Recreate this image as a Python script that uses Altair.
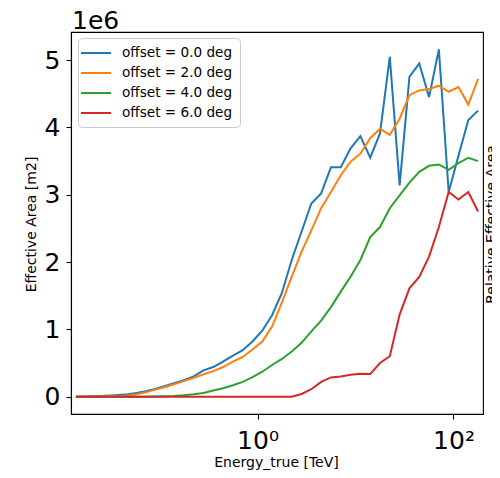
import altair as alt
import pandas as pd

# Energy (TeV): geometric centres of 42 log bins from 0.0125 to 200 TeV
energy_tev = [0.01403, 0.01766, 0.02224, 0.02801, 0.03527, 0.04442, 0.05594, 0.07044,
              0.08870, 0.1117, 0.1407, 0.1771, 0.2231, 0.2809, 0.3537, 0.4454,
              0.5609, 0.7064, 0.8886, 1.119, 1.409, 1.774, 2.234, 2.814,
              3.543, 4.462, 5.619, 7.075, 8.910, 11.22, 14.13, 17.78,
              22.39, 28.20, 35.51, 44.72, 56.31, 70.91, 89.30, 112.4,
              141.6, 178.3]

# Effective area in units of 1e6 m2
aeff_off0 = [0.0, 0.003, 0.006, 0.012, 0.02, 0.03, 0.05, 0.075,
             0.11, 0.155, 0.20, 0.245, 0.30, 0.39, 0.44, 0.52,
             0.61, 0.69, 0.82, 0.98, 1.21, 1.54, 2.03, 2.45,
             2.87, 3.02, 3.41, 3.41, 3.69, 3.87, 3.55, 3.91,
             5.05, 3.14, 4.75, 4.95, 4.45, 5.16, 3.04, 3.58,
             4.11, 4.25]
aeff_off2 = [0.0, 0.0, 0.002, 0.005, 0.01, 0.015, 0.03, 0.06,
             0.10, 0.14, 0.185, 0.23, 0.28, 0.33, 0.38, 0.44,
             0.52, 0.59, 0.70, 0.82, 1.04, 1.40, 1.78, 2.15,
             2.47, 2.80, 3.04, 3.29, 3.49, 3.61, 3.84, 3.98,
             3.89, 4.13, 4.48, 4.55, 4.57, 4.62, 4.53, 4.60,
             4.34, 4.72]
aeff_off4 = [0.0, 0.0, 0.0, 0.0, 0.0, 0.0, 0.0, 0.0,
             0.002, 0.005, 0.01, 0.02, 0.035, 0.055, 0.09, 0.125,
             0.17, 0.22, 0.29, 0.37, 0.47, 0.56, 0.67, 0.80,
             0.97, 1.13, 1.33, 1.56, 1.78, 2.03, 2.37, 2.52,
             2.80, 2.99, 3.18, 3.34, 3.43, 3.45, 3.37, 3.47,
             3.55, 3.50]
aeff_off6 = [0.0, 0.0, 0.0, 0.0, 0.0, 0.0, 0.0, 0.0,
             0.0, 0.0, 0.0, 0.0, 0.0, 0.0, 0.0, 0.0,
             0.0, 0.0, 0.0, 0.0, 0.0, 0.0, 0.0, 0.04,
             0.11, 0.22, 0.285, 0.30, 0.325, 0.34, 0.335, 0.50,
             0.60, 1.22, 1.61, 1.78, 2.08, 2.52, 3.04, 2.93,
             3.04, 2.75]

series_labels = ["offset = 0.0 deg", "offset = 2.0 deg", "offset = 4.0 deg", "offset = 6.0 deg"]
series_colors = ["#1f77b4", "#ff7f0e", "#2ca02c", "#d62728"]
series_values = [aeff_off0, aeff_off2, aeff_off4, aeff_off6]

offset_text = ["1e6"]

rows = []
for label, vals in zip(series_labels, series_values):
    for e, v in zip(energy_tev, vals):
        rows.append({"energy": e, "aeff": v, "offset": label})
df = pd.DataFrame(rows)

FONT = "DejaVu Sans"


def x_enc():
    return alt.X(
        "energy:Q",
        scale=alt.Scale(type="log", domain=[0.0125, 200], nice=False),
        axis=alt.Axis(
            values=[1, 100],
            labelExpr="datum.value == 1 ? '10⁰' : '10²'",
            title="Energy_true [TeV]",
            titleX=205, titleY=52, titleBaseline="alphabetic", titleAnchor="middle",
            labelFontSize=25, labelBaseline="alphabetic", labelPadding=29,
            tickSize=5, labelFlush=False, labelOverlap=False,
        ),
    )


lines = alt.Chart(df).mark_line(strokeWidth=2, clip=True).encode(
    x=x_enc(),
    y=alt.Y(
        "aeff:Q",
        scale=alt.Scale(domain=[-0.258, 5.418], nice=False, zero=False),
        axis=alt.Axis(
            values=[0, 1, 2, 3, 4, 5],
            format="d",
            title="Effective Area [m2]",
            titleX=-36, titleY=192, titleBaseline="alphabetic", titleAngle=270,
            titleAnchor="middle",
            labelFontSize=25, labelPadding=6, tickSize=5,
        ),
    ),
    color=alt.Color(
        "offset:N",
        scale=alt.Scale(domain=series_labels, range=series_colors),
        legend=alt.Legend(
            title=None, orient="none", legendX=7, legendY=6,
            symbolType="M-2.14,0H2.14", symbolSize=196, symbolStrokeWidth=2,
            symbolOffset=3,
            labelFontSize=13.6, labelFont=FONT, labelColor="black", labelOffset=18,
            fillColor="rgba(255,255,255,0.8)", strokeColor="#cccccc",
            cornerRadius=4, padding=7, rowPadding=5,
        ),
    ),
)

right = alt.Chart(df).mark_line(opacity=0).encode(
    x=x_enc(),
    y=alt.Y(
        "aeff:Q",
        axis=alt.Axis(
            orient="right", title="Relative Effective Area", labels=False, ticks=False,
            domain=False, grid=False, titleAngle=270, titleX=12, titleY=192,
            titleBaseline="alphabetic", titleAnchor="middle",
        ),
    ),
)

offset_label = alt.Chart(pd.DataFrame({"t": offset_text})).mark_text(
    align="left", baseline="alphabetic", fontSize=25, font=FONT, color="black"
).encode(x=alt.value(1), y=alt.value(-3), text="t:N")

chart = alt.layer(lines, right, offset_label).resolve_scale(y="independent").properties(
    width=412, height=382,
    padding={"left": 63, "top": 24, "right": 9, "bottom": 56},
    autosize=alt.AutoSizeParams(type="none"),
).configure(font=FONT).configure_axis(
    grid=False, domainColor="black", tickColor="black", labelColor="black",
    titleColor="black", titleFontWeight="normal", titleFontSize=14,
    labelFont=FONT, titleFont=FONT, tickWidth=1.1, domainWidth=1.1,
).configure_view(stroke="black", strokeWidth=1.1)

chart.save("out.html", embed_options={"renderer": "svg", "actions": False})
